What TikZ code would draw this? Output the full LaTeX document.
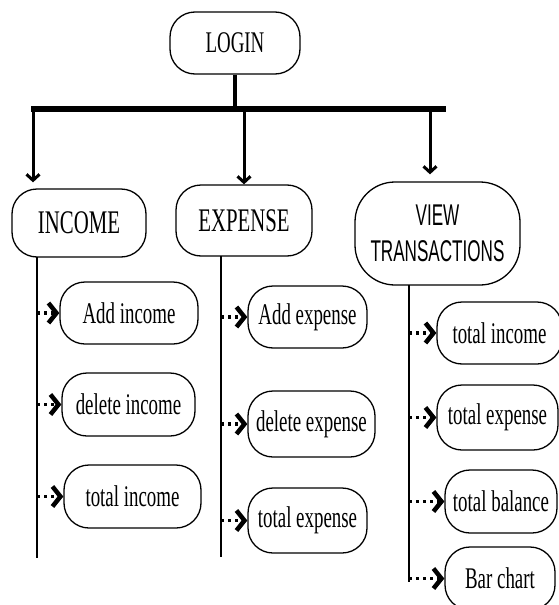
\documentclass[tikz,border=0pt]{standalone}
\usepackage{fontspec}
\setmainfont{Liberation Serif}[FakeStretch=0.63]
\newfontfamily\viewfont{Liberation Sans}[FakeStretch=0.57]
\usetikzlibrary{arrows.meta,positioning,calc}
\tikzset{
  >={Straight Barb[length=6pt,width=13pt]},
  modul/.style={
    rectangle,
    rounded corners=25pt,
    draw=black, line width=1.3pt,
    text centered,
    inner sep=0pt,
    font=\fontsize{30}{34}\selectfont},
  hauptmodul/.style={modul, font=\fontsize{33}{36}\selectfont},
  viewmodul/.style={modul, rounded corners=40pt, align=center,
    font=\viewfont\fontsize{30}{36}\selectfont},
  line/.style={draw, line width=2.5pt},
  balken/.style={draw, line width=6pt},
  pfeil/.style={draw, line width=3pt, ->},
  subpfeil/.style={draw, line width=3.5pt, dash pattern=on 3pt off 4pt,
    -{Straight Barb[length=8pt,width=20pt,line width=4.5pt]}},
}

\begin{document}
\begin{tikzpicture}[x=1pt,y=-1pt]
  \useasboundingbox (0,0) rectangle (559,605);

  \node[modul, minimum width=130pt, minimum height=62pt] (login) at (235,43) {LOGIN};

  \node[hauptmodul, minimum width=134pt, minimum height=68pt] (income) at (79,223) {INCOME};
  \node[hauptmodul, minimum width=136pt, minimum height=71pt] (expense) at (244,220.5) {EXPENSE};
  \node[viewmodul, minimum width=165pt, minimum height=103pt] (view) at (437.5,233.5) {VIEW\\TRANSACTIONS};

  \node[modul, minimum width=138pt, minimum height=62pt] (addinc) at (129,313) {Add income};
  \node[modul, minimum width=133pt, minimum height=63pt] (delinc) at (128.5,404.5) {delete income};
  \node[modul, minimum width=137pt, minimum height=63pt] (totinc) at (132.5,496.5) {total income};

  \node[modul, minimum width=119pt, minimum height=62pt] (addexp) at (307.5,317) {Add expense};
  \node[modul, minimum width=127pt, minimum height=66pt] (delexp) at (311.5,424) {delete expense};
  \node[modul, minimum width=119pt, minimum height=65pt] (totexp) at (307.5,520.5) {total expense};

  \node[modul, minimum width=125pt, minimum height=62pt] (vinc) at (499.5,333) {total income};
  \node[modul, minimum width=121pt, minimum height=65pt] (vexp) at (497.5,417.5) {total expense};
  \node[modul, minimum width=112pt, minimum height=63pt] (vbal) at (501,501.5) {total balance};
  \node[modul, minimum width=110pt, minimum height=63pt] (vbar) at (500,578.5) {Bar chart};

  \coordinate (barl) at (31,109);
  \coordinate (barr) at (446,109);
  \coordinate (b1) at (33,109);
  \coordinate (b3) at (430,109);
  \draw[balken] (barl) -- (barr);
  \draw[line, line width=4pt] (login.south) -- (login.south |- barl);

  \draw[pfeil, shorten >=6pt] (b1) -- (b1 |- income.north);
  \draw[pfeil] (expense.north |- barl) -- (expense.north);
  \draw[pfeil, shorten >=7pt] (b3) -- (b3 |- view.north);

  \coordinate (inctop) at (37,257);
  \coordinate (incbot) at (37,558);
  \coordinate (exptop) at (221,256);
  \coordinate (expbot) at (221,557);
  \coordinate (viewtop) at (409,285);
  \coordinate (viewbot) at (409,582);
  \draw[line] (inctop) -- (incbot);
  \draw[line] (exptop) -- (expbot);
  \draw[line] (viewtop) -- (viewbot);

  \draw[subpfeil] (inctop |- addinc.west) -- (addinc.west);
  \draw[subpfeil] (inctop |- delinc.west) -- (delinc.west);
  \draw[subpfeil] (inctop |- totinc.west) -- (totinc.west);
  \draw[subpfeil] (exptop |- addexp.west) -- (addexp.west);
  \draw[subpfeil] (exptop |- delexp.west) -- (delexp.west);
  \draw[subpfeil] (exptop |- totexp.west) -- (totexp.west);
  \draw[subpfeil] (viewtop |- vinc.west) -- (vinc.west);
  \draw[subpfeil] (viewtop |- vexp.west) -- (vexp.west);
  \draw[subpfeil] (viewtop |- vbal.west) -- (vbal.west);
  \draw[subpfeil] (viewtop |- vbar.west) -- (vbar.west);
\end{tikzpicture}
\end{document}
